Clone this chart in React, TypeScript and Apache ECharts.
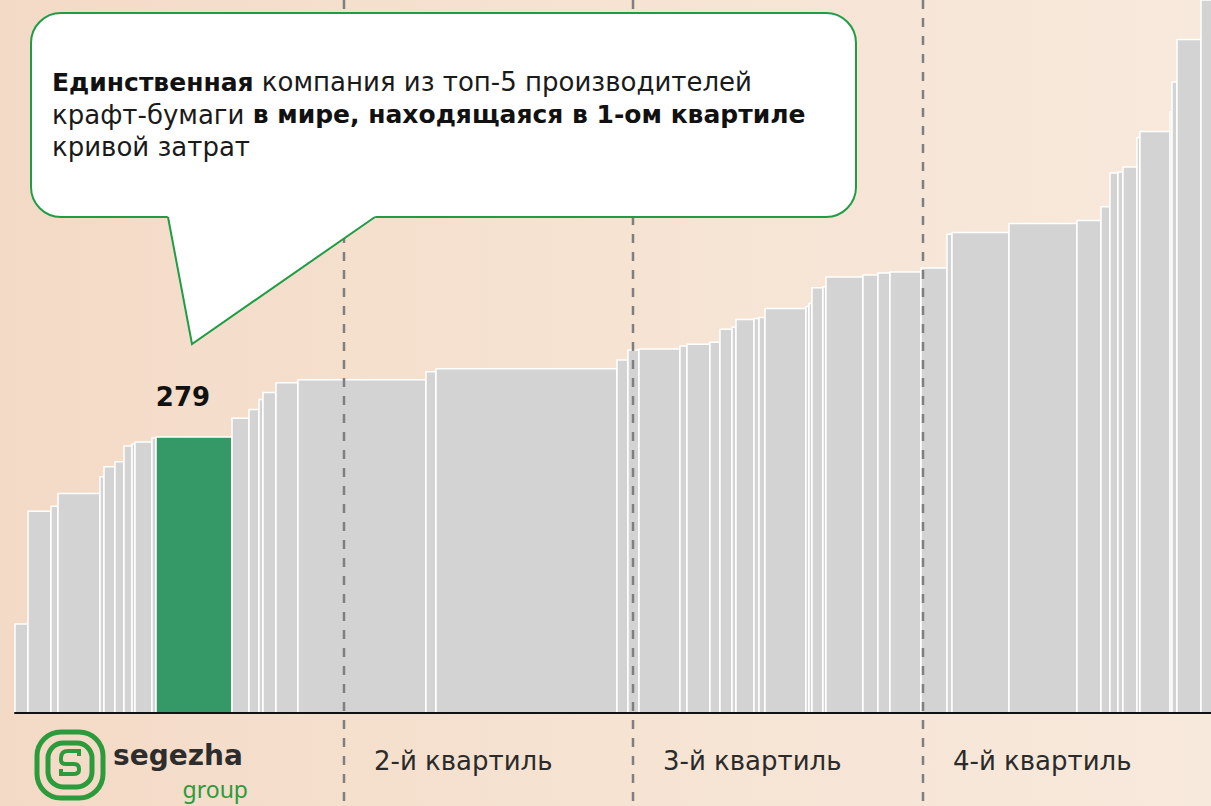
import { useEffect, useRef } from 'react';
import * as echarts from 'echarts';

// capacity of each producer (bar width, arbitrary capacity units)
const capacities = [13, 23, 7, 42, 4, 11, 9, 8, 3, 17, 4, 76, 17, 10, 4, 13, 22, 128, 10, 181, 11, 11, 41, 7, 23, 10, 12, 4, 18, 5, 6, 41, 3, 3, 11, 3, 37, 15, 12, 31, 26, 5, 57, 68, 24, 9, 8, 5, 14, 3, 30, 2, 5, 24, 29];
// cash cost of each producer (bar height)
const costs = [90, 204, 209, 222, 239, 249, 254, 270, 272, 274, 278, 279, 298, 307, 317, 324, 334, 337, 345, 348, 357, 367, 368, 371, 373, 375, 388, 390, 398, 399, 400, 409, 411, 414, 430, 431, 441, 443, 445, 446, 450, 484, 486, 495, 498, 512, 546, 547, 552, 582, 588, 608, 638, 681, 760];
const highlightIndex = 11;
const quartileBounds = [329, 618, 908];
const quartileLabels = ['2-й квартиль', '3-й квартиль', '4-й квартиль'];

const GREEN = '#1f9d45';
const LOGO_GREEN = '#2b9b3c';
const FONT = 'DejaVu Sans';

function buildBars() {
  const out: number[][] = [];
  let acc = 0;
  capacities.forEach((c, i) => {
    out.push([acc, acc + c, costs[i], i]);
    acc += c;
  });
  return out;
}

export default function App() {
  const ref = useRef<HTMLDivElement>(null);
  useEffect(() => {
    if (!ref.current) return;
    const chart = echarts.init(ref.current, undefined, { renderer: 'svg' });
    const sPath = 'M 9 -4 L 9 -9 L -2 -9 Q -9 -9 -9 -2 L -9 0 Q -9 4 -4 4 L 4 4 Q 9 4 9 9 L 9 10 Q 9 14 3 14 L -9 14 L -9 9';
    echarts.graphic.registerShape('logoS', (echarts.graphic as any).extendPath(sPath, {}));

    const bars = buildBars();
    const Z = 100;
    const option: any = {
      animation: false,
      backgroundColor: {
        type: 'linear', x: 0, y: 0, x2: 1, y2: 0,
        colorStops: [
          { offset: 0, color: '#f3dac6' },
          { offset: 0.5, color: '#f6e3d2' },
          { offset: 1, color: '#f7e9dc' },
        ],
      },
      grid: { left: 15, right: 0, top: 0, bottom: 93 },
      xAxis: {
        type: 'value', min: 0, max: 1196, z: 10,
        axisLine: { show: true, onZero: false, lineStyle: { color: '#111', width: 2 } },
        axisTick: { show: false }, axisLabel: { show: false }, splitLine: { show: false },
      },
      yAxis: { type: 'value', min: 0, max: 721, show: false, splitLine: { show: false } },
      series: [
        {
          type: 'custom',
          z: 2,
          encode: { x: [0, 1], y: 2 },
          data: bars,
          renderItem: (params: any, api: any) => {
            const x0 = api.value(0), x1 = api.value(1), v = api.value(2), idx = api.value(3);
            const p0 = api.coord([x0, v]);
            const p1 = api.coord([x1, 0]);
            const cs = params.coordSys;
            const shape = echarts.graphic.clipRectByRect(
              { x: p0[0], y: p0[1], width: p1[0] - p0[0], height: p1[1] - p0[1] },
              { x: cs.x, y: cs.y, width: cs.width + 40, height: cs.height }
            );
            if (!shape) return null;
            const hl = idx === highlightIndex;
            const rect = {
              type: 'rect', shape,
              style: { fill: hl ? '#349966' : '#d3d3d3', stroke: '#ffffff', lineWidth: 1.5 },
            };
            if (!hl) return rect;
            return {
              type: 'group',
              children: [
                rect,
                {
                  type: 'text', x: (p0[0] + p1[0]) / 2 - 11, y: p0[1] - 40,
                  style: { text: String(v), fontFamily: FONT, fontSize: 26, fontWeight: 'bold', fill: '#111', align: 'center', verticalAlign: 'middle' },
                },
              ],
            };
          },
        },
        {
          type: 'custom',
          z: 4,
          clip: false,
          encode: { x: 0 },
          data: quartileBounds.map((b, i) => [b, i]),
          renderItem: (params: any, api: any) => {
            const x = api.coord([api.value(0), 0])[0];
            const i = api.value(1);
            return {
              type: 'group',
              children: [
                { type: 'line', shape: { x1: x, y1: 0, x2: x, y2: 806 }, style: { stroke: '#7f7f7f', lineWidth: 2.5, lineDash: [9, 9] } },
                { type: 'text', x: x + 30, y: 761, style: { text: quartileLabels[i], fontFamily: FONT, fontSize: 26, fill: '#2b2b2b', align: 'left', verticalAlign: 'middle' } },
              ],
            };
          },
        },
      ],
      graphic: [
        { type: 'rect', z: Z, shape: { x: 31, y: 13, width: 825, height: 204, r: 30 }, style: { fill: '#ffffff', stroke: GREEN, lineWidth: 2 } },
        { type: 'polygon', z: Z + 1, shape: { points: [[165, 211], [168, 217], [192, 344], [375, 217], [378, 211]] }, style: { fill: '#ffffff' } },
        { type: 'polyline', z: Z + 2, shape: { points: [[168, 217], [192, 344], [375, 217]] }, style: { stroke: GREEN, lineWidth: 2, fill: null } },
        {
          type: 'text', z: Z + 3, x: 52, y: 66,
          style: {
            text: '{b|Единственная} компания из топ-5 производителей\nкрафт-бумаги {b|в мире, находящаяся в 1-ом квартиле}\nкривой затрат',
            fontFamily: FONT, fontSize: 26, fill: '#1a1a1a', lineHeight: 32.5, verticalAlign: 'top',
            rich: { b: { fontFamily: FONT, fontSize: 25, fontWeight: 'bold', fill: '#111', lineHeight: 32.5 } },
          },
        },
        { type: 'rect', z: Z, shape: { x: 37, y: 732, width: 66, height: 66, r: 24 }, style: { fill: 'none', stroke: LOGO_GREEN, lineWidth: 5 } },
        { type: 'rect', z: Z, shape: { x: 48, y: 743, width: 44, height: 44, r: 15 }, style: { fill: 'none', stroke: LOGO_GREEN, lineWidth: 5 } },
        { type: 'logoS', z: Z, x: 70, y: 760, style: { fill: 'none', stroke: LOGO_GREEN, lineWidth: 4 } },
        { type: 'text', z: Z, x: 113, y: 755, style: { text: 'segezha', fontFamily: FONT, fontSize: 28, fontWeight: 'bold', fill: '#2d2d2d', verticalAlign: 'middle' } },
        { type: 'text', z: Z, x: 248, y: 789, style: { text: 'group', fontFamily: 'Noto Sans', fontSize: 23, fill: LOGO_GREEN, align: 'right', verticalAlign: 'middle' } },
      ],
    };
    chart.setOption(option);
    return () => chart.dispose();
  }, []);
  return <div ref={ref} style={{ position: 'fixed', left: 0, top: 0, width: 1211, height: 806 }} />;
}
